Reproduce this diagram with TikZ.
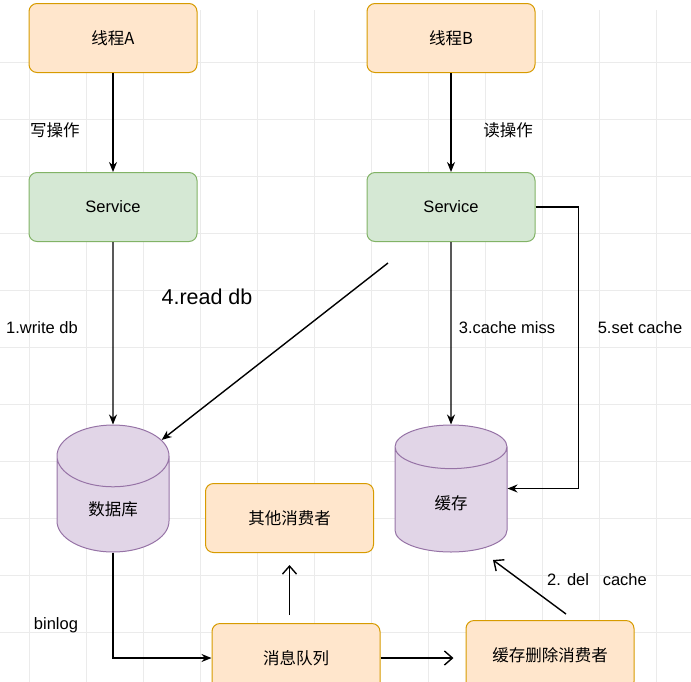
\documentclass[tikz,border=0pt]{standalone}
\usepackage{fontspec}
\setmainfont{Liberation Sans}
\newfontfamily\cjk{Noto Sans CJK SC}
\usetikzlibrary{shapes.geometric,arrows.meta}
\definecolor{orfill}{HTML}{FFE6CC}
\definecolor{ordraw}{HTML}{D79B00}
\definecolor{grfill}{HTML}{D5E8D4}
\definecolor{grdraw}{HTML}{82B366}
\definecolor{pufill}{HTML}{E1D5E7}
\definecolor{pudraw}{HTML}{9673A6}
\begin{document}
\begin{tikzpicture}[x=1pt,y=-1pt,
    font=\fontsize{16.5}{20}\selectfont,
    box/.style={rectangle,rounded corners=8pt,minimum width=168pt,minimum height=69pt,line width=1pt},
    thread/.style={box,fill=orfill,draw=ordraw},
    svc/.style={box,fill=grfill,draw=grdraw},
    db/.style={cylinder,shape border rotate=90,aspect=1.1,minimum width=112pt,minimum height=127pt,anchor=shape center,fill=pufill,draw=pudraw,line width=1pt},
    flow/.style={line width=1.4pt,-{Stealth[length=10pt,width=8pt]}},
    hand/.style={line width=1.4pt,-{Straight Barb[length=8pt,width=14pt]}}]
  \useasboundingbox (0,0) rectangle (691,681);
  \draw[black!8,line width=0.6pt,step=57pt,shift={(29pt,-5pt)}] (-29,5) grid (691,681);

  \node[thread] (tA) at (113,38) {\cjk 线程A};
  \node[thread] (tB) at (451,38) {\cjk 线程B};
  \node[svc] (sA) at (113,207) {Service};
  \node[svc] (sB) at (451,207) {Service};
  \node[db] (dbase) at (113,488.5) {\cjk 数据库};
  \node[db] (cache) at (451,488.5) {\cjk 缓存};
  \node[thread] (other) at (289.5,518) {\cjk 其他消费者};
  \node[thread] (mq) at (296,658) {\cjk 消息队列};
  \node[thread] (delc) at (550,655) {\cjk 缓存删除消费者};
  \coordinate (rdstart) at (388,263);
  \coordinate (delstart) at (566,614);
  \coordinate (delend) at (493,560);

  \node at (55,130) {\cjk 写操作};
  \node at (508,130) {\cjk 读操作};
  \node at (42,328) {1.write db};
  \node[font=\fontsize{21.5}{26}\selectfont] at (207,297) {4.read db};
  \node at (507,328) {3.cache miss};
  \node at (640,328) {5.set cache};
  \node at (56,625) {binlog};
  \node at (597,580) {2. del\ \ \ cache};

  \draw[flow] (tA) -- (sA);
  \draw[flow] (tB) -- (sB);
  \draw[flow] (sA) -- (dbase.north);
  \draw[flow] (sB) -- (cache.north);
  \draw[flow] (rdstart) -- (dbase.55);
  \draw[flow] (sB.east) -- ++(43,0) |- (cache.shape center -| cache.east);
  \draw[flow] (dbase.south) |- (mq.west);
  \draw[hand,shorten >=12pt] (mq.east) -- (mq.east -| delc.west);
  \draw[hand,shorten <=8pt,shorten >=12pt] (mq.north -| other.south) -- (other.south);
  \draw[hand] (delstart) -- (delend);
\end{tikzpicture}
\end{document}
